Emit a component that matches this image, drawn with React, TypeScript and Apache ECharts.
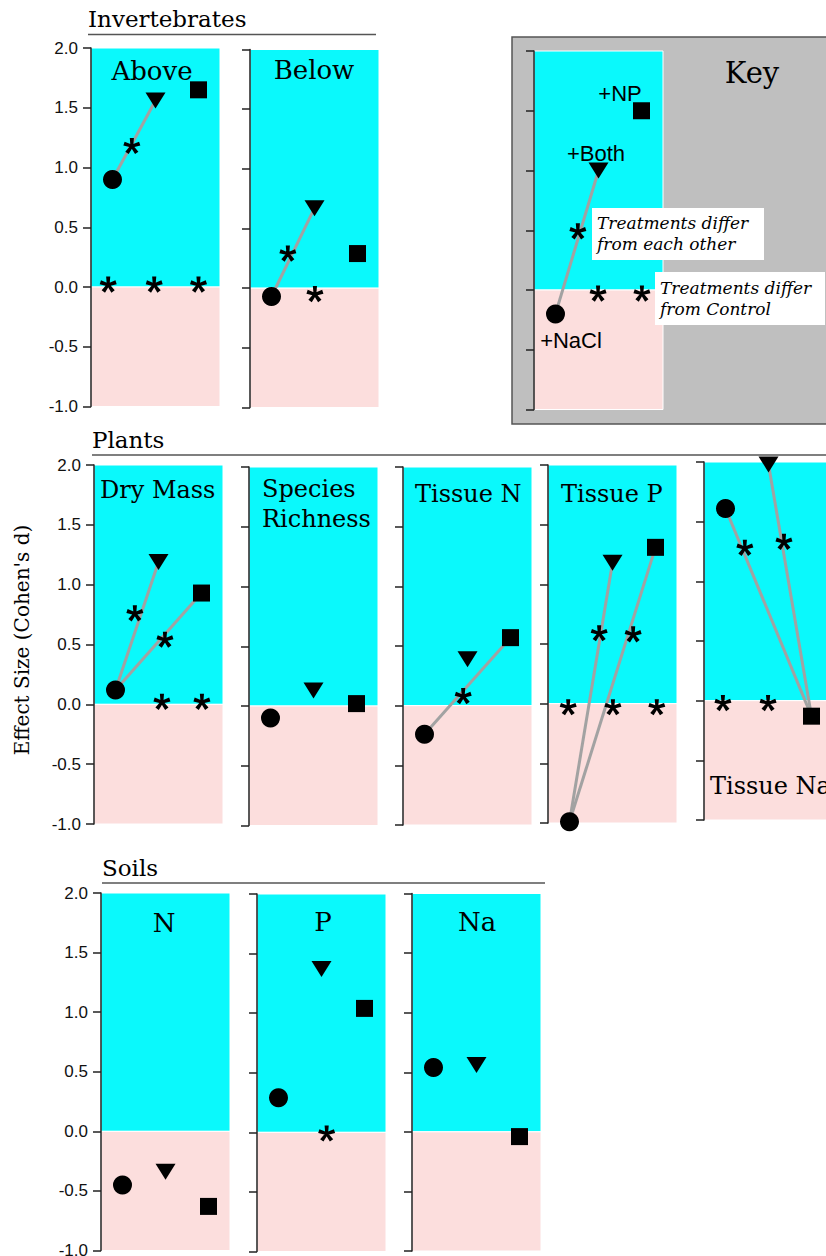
import React, { useEffect, useRef } from "react";
import * as echarts from "echarts";

// ---------- data ----------
const treatments = ["+NaCl", "+Both", "+NP"];
const treatmentX = [0.5, 1.5, 2.5];
const yMin = -1;
const yMax = 2;
const yStep = 0.5;

// effect sizes (Cohen's d), order: +NaCl (circle), +Both (triangle), +NP (square)
const aboveVals = [0.9, 1.56, 1.65];
const belowVals = [-0.07, 0.67, 0.29];
const keyVals = [-0.2, 1.0, 1.5];
const dryMassVals = [0.12, 1.19, 0.93];
const richnessVals = [-0.1, 0.13, 0.02];
const tissueNVals = [-0.24, 0.39, 0.57];
const tissuePVals = [-0.99, 1.18, 1.31];
const tissueNaVals = [1.61, 1.98, -0.13];
const soilNVals = [-0.45, -0.34, -0.63];
const soilPVals = [0.29, 1.37, 1.04];
const soilNaVals = [0.54, 0.56, -0.04];

// connected treatment pairs (indices into treatments)
const aboveLinks = [[0, 1]];
const belowLinks = [[0, 1]];
const keyLinks = [[0, 1]];
const dryMassLinks = [[0, 1], [0, 2]];
const richnessLinks: number[][] = [];
const tissueNLinks = [[0, 2]];
const tissuePLinks = [[0, 1], [0, 2]];
const tissueNaLinks = [[0, 2], [1, 2]];
const soilNLinks: number[][] = [];
const soilPLinks: number[][] = [];
const soilNaLinks: number[][] = [];

// significance asterisks [x, effect size]
const aboveStars = [[0.95, 1.18], [0.4, 0.02], [1.47, 0.02], [2.5, 0.02]];
const belowStars = [[0.88, 0.29], [1.51, -0.05]];
const keyStars = [[1.02, 0.49], [1.49, -0.03], [2.51, -0.03]];
const dryMassStars = [[0.95, 0.76], [1.65, 0.54], [1.58, 0.02], [2.51, 0.02]];
const richnessStars: number[][] = [];
const tissueNStars = [[1.4, 0.08]];
const tissuePStars = [[1.19, 0.59], [1.98, 0.58], [0.47, -0.03], [1.51, -0.03], [2.53, -0.03]];
const tissueNaStars = [[0.95, 1.28], [1.86, 1.33], [0.44, -0.02], [1.49, -0.02]];
const soilNStars: number[][] = [];
const soilPStars = [[1.62, -0.01]];
const soilNaStars: number[][] = [];

// ---------- layout ----------
const PW = 129;
const panels = [
  { left: 91, top: 48, h: 358.5, vals: aboveVals, links: aboveLinks, stars: aboveStars, labels: true },
  { left: 250, top: 49.5, h: 358, vals: belowVals, links: belowLinks, stars: belowStars, labels: false },
  { left: 534, top: 51, h: 358.5, vals: keyVals, links: keyLinks, stars: keyStars, labels: false },
  { left: 94, top: 465, h: 359, vals: dryMassVals, links: dryMassLinks, stars: dryMassStars, labels: true },
  { left: 249, top: 467, h: 358.5, vals: richnessVals, links: richnessLinks, stars: richnessStars, labels: false },
  { left: 403, top: 467, h: 358, vals: tissueNVals, links: tissueNLinks, stars: tissueNStars, labels: false },
  { left: 548, top: 465, h: 358, vals: tissuePVals, links: tissuePLinks, stars: tissuePStars, labels: false },
  { left: 704, top: 462, h: 358, vals: tissueNaVals, links: tissueNaLinks, stars: tissueNaStars, labels: false },
  { left: 101, top: 893, h: 357.5, vals: soilNVals, links: soilNLinks, stars: soilNStars, labels: true },
  { left: 257, top: 894, h: 357.5, vals: soilPVals, links: soilPLinks, stars: soilPStars, labels: false },
  { left: 412, top: 893.5, h: 357.5, vals: soilNaVals, links: soilNaLinks, stars: soilNaStars, labels: false },
];

const CYAN = "#0af9fc";
const PINK = "#fcdedd";
const LINE = "#a2a2a2";
const SERIF = "DejaVu Serif";
const SANS = "Liberation Sans";

function asteriskPath(): string {
  const f = (n: number) => n.toFixed(3);
  const w0 = 0.34;
  const w1 = 0.5;
  let d = "";
  for (let k = 0; k < 5; k++) {
    const a = ((-90 + 72 * k) * Math.PI) / 180;
    const dx = Math.cos(a);
    const dy = Math.sin(a);
    const nx = -dy;
    const ny = dx;
    const pts = [
      [(-w0 / 2) * nx, (-w0 / 2) * ny],
      [dx - (w1 / 2) * nx, dy - (w1 / 2) * ny],
      [dx + (w1 / 2) * nx, dy + (w1 / 2) * ny],
      [(w0 / 2) * nx, (w0 / 2) * ny],
    ];
    d += "M" + pts.map((p) => f(p[0]) + " " + f(p[1])).join("L") + "Z";
  }
  const pent: string[] = [];
  for (let k = 0; k < 5; k++) {
    const a = ((-90 + 72 * k + 36) * Math.PI) / 180;
    pent.push(f(0.26 * Math.cos(a)) + " " + f(0.26 * Math.sin(a)));
  }
  d += "M" + pent.join("L") + "Z";
  return "path://" + d;
}

function txt(text: string, x: number, y: number, size: number, opts: any = {}) {
  return {
    type: "text",
    x,
    y,
    z: opts.z ?? 20,
    rotation: opts.rotation ?? 0,
    silent: true,
    style: {
      text,
      x: 0,
      y: 0,
      fontSize: size,
      fontFamily: opts.family ?? SERIF,
      fontStyle: opts.italic ? "italic" : "normal",
      fill: "#000",
      align: opts.align ?? "left",
      verticalAlign: "middle",
      textAlign: opts.align ?? "left",
      textVerticalAlign: "middle",
    },
  };
}

function buildOption() {
  const grid: any[] = [];
  const xAxis: any[] = [];
  const yAxis: any[] = [];
  const series: any[] = [];
  const star = asteriskPath();

  panels.forEach((p, i) => {
    grid.push({
      left: p.left,
      top: p.top,
      width: PW,
      height: p.h,
      show: false,
      containLabel: false,
      outerBoundsMode: "none",
    });
    xAxis.push({ gridIndex: i, type: "value", min: 0, max: 3, show: false });
    yAxis.push({
      gridIndex: i,
      type: "value",
      min: yMin,
      max: yMax,
      interval: yStep,
      z: 4,
      axisLine: { show: true, onZero: false, lineStyle: { color: "#222", width: 1.5 } },
      axisTick: { show: true, length: 8, lineStyle: { color: "#222", width: 1.5 } },
      axisLabel: {
        show: p.labels,
        fontFamily: SANS,
        fontSize: 17,
        color: "#111",
        margin: 13,
        formatter: (v: number) => v.toFixed(1),
      },
      splitLine: { show: false },
    });

    p.links.forEach((lk) => {
      series.push({
        type: "line",
        xAxisIndex: i,
        yAxisIndex: i,
        silent: true,
        symbol: "none",
        clip: false,
        z: 2,
        lineStyle: { color: LINE, width: 3 },
        data: lk.map((k) => [treatmentX[k], p.vals[k]]),
      });
    });

    const markerBase = {
      type: "scatter",
      xAxisIndex: i,
      yAxisIndex: i,
      silent: true,
      clip: false,
      z: 3,
      itemStyle: { color: "#000", opacity: 1 },
    };
    series.push({
      ...markerBase,
      name: treatments[0],
      symbol: "circle",
      symbolSize: 19,
      data: [[treatmentX[0], p.vals[0]]],
      markArea: {
        silent: true,
        data: [
          [
            { coord: [0, 0], itemStyle: { color: CYAN, borderColor: "#fff", borderWidth: 1 } },
            { coord: [3, yMax] },
          ],
          [
            { coord: [0, yMin], itemStyle: { color: PINK, borderColor: "#fff", borderWidth: 1 } },
            { coord: [3, 0] },
          ],
        ],
      },
    });
    series.push({
      ...markerBase,
      name: treatments[1],
      symbol: "triangle",
      symbolRotate: 180,
      symbolSize: [20, 16],
      data: [[treatmentX[1], p.vals[1]]],
    });
    series.push({
      ...markerBase,
      name: treatments[2],
      symbol: "rect",
      symbolSize: 17,
      data: [[treatmentX[2], p.vals[2]]],
    });
    if (p.stars.length) {
      series.push({
        ...markerBase,
        name: "sig",
        symbol: star,
        symbolKeepAspect: true,
        symbolSize: 17,
        z: 4,
        data: p.stars,
      });
    }
  });

  const graphic: any[] = [
    // key background
    {
      type: "rect",
      z: 0,
      silent: true,
      shape: { x: 512, y: 37, width: 330, height: 387 },
      style: { fill: "#bfbfbf", stroke: "#555", lineWidth: 1.5 },
    },
    // section underlines
    { type: "line", silent: true, z: 1, shape: { x1: 88, y1: 34.5, x2: 376, y2: 34.5 }, style: { stroke: "#555", lineWidth: 1.5 } },
    { type: "line", silent: true, z: 1, shape: { x1: 92, y1: 455, x2: 826, y2: 455 }, style: { stroke: "#555", lineWidth: 1.5 } },
    { type: "line", silent: true, z: 1, shape: { x1: 102, y1: 883, x2: 545, y2: 883 }, style: { stroke: "#555", lineWidth: 1.5 } },
    // section titles
    txt("Invertebrates", 88, 19, 23),
    txt("Plants", 92, 440, 23),
    txt("Soils", 102, 868, 23),
    // y-axis title
    txt("Effect Size (Cohen's d)", 22, 640, 20, { rotation: Math.PI / 2, align: "center" }),
    // panel titles
    txt("Above", 152, 71, 26, { align: "center" }),
    txt("Below", 314, 70, 26, { align: "center" }),
    txt("Dry Mass", 100, 490, 24),
    txt("Species", 262, 489, 24),
    txt("Richness", 262, 519, 24),
    txt("Tissue N", 415, 494, 24),
    txt("Tissue P", 561, 494, 24),
    txt("Tissue Na", 710, 786, 24),
    txt("N", 164, 923, 26, { align: "center" }),
    txt("P", 323, 922, 26, { align: "center" }),
    txt("Na", 477, 922, 26, { align: "center" }),
    // key annotations
    txt("Key", 752, 73, 29, { align: "center" }),
    txt("+NP", 620, 93, 22, { align: "center", family: SANS }),
    txt("+Both", 596, 153, 22, { align: "center", family: SANS }),
    txt("+NaCl", 571, 340, 22, { align: "center", family: SANS }),
    {
      type: "rect",
      z: 15,
      silent: true,
      shape: { x: 592, y: 208, width: 172, height: 52 },
      style: { fill: "#fff" },
    },
    {
      type: "rect",
      z: 15,
      silent: true,
      shape: { x: 655, y: 272, width: 170, height: 53 },
      style: { fill: "#fff" },
    },
    txt("Treatments differ", 597, 223, 17, { italic: true }),
    txt("from each other", 597, 244, 17, { italic: true }),
    txt("Treatments differ", 660, 288, 17, { italic: true }),
    txt("from Control", 660, 309, 17, { italic: true }),
  ];

  return {
    animation: false,
    backgroundColor: "#fff",
    grid,
    xAxis,
    yAxis,
    series,
    graphic: { elements: graphic },
  };
}

export default function App() {
  const ref = useRef<HTMLDivElement>(null);
  useEffect(() => {
    if (!ref.current) return;
    const chart = echarts.init(ref.current, null, { renderer: "svg" });
    chart.setOption(buildOption() as any);
    return () => chart.dispose();
  }, []);
  return (
    <div
      ref={ref}
      style={{ position: "absolute", left: 0, top: 0, width: 826, height: 1256, background: "#fff" }}
    />
  );
}
